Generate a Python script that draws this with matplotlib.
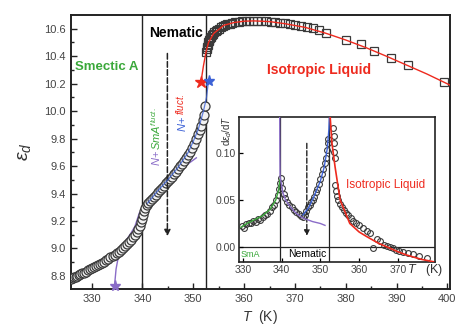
import numpy as np
import matplotlib
matplotlib.use("Agg")
import matplotlib.pyplot as plt

plt.rcParams['font.family'] = ['Liberation Sans', 'DejaVu Sans']
plt.rcParams['mathtext.fontset'] = 'custom'
plt.rcParams['mathtext.it'] = 'Liberation Sans:italic'
plt.rcParams['mathtext.rm'] = 'Liberation Sans'

# main panel: dielectric constant vs temperature
# smectic A + nematic (circles)
T_lc = [326.0, 326.3, 326.6, 326.9, 327.2, 327.5, 327.8, 328.1, 328.5, 328.9,
        329.3, 329.7, 330.1, 330.5, 330.9, 331.3, 331.7, 332.1, 332.5, 332.9,
        333.3, 333.7, 334.1, 334.5, 334.9, 335.3, 335.7, 336.1, 336.5, 336.9,
        337.3, 337.7, 338.1, 338.5, 338.9, 339.2, 339.5, 339.8, 340.0, 340.15,
        340.3, 340.5, 340.8, 341.1, 341.4, 341.8, 342.2, 342.6, 343.0, 343.4,
        343.8, 344.2, 344.6, 345.0, 345.4, 345.8, 346.2, 346.6, 347.0, 347.4,
        347.8, 348.2, 348.6, 349.0, 349.4, 349.8, 350.2, 350.6, 351.0, 351.3,
        351.6, 351.9, 352.1, 352.3]
eps_lc = [8.780, 8.785, 8.790, 8.795, 8.800, 8.806, 8.812, 8.818, 8.825, 8.832,
          8.840, 8.848, 8.856, 8.864, 8.872, 8.880, 8.888, 8.896, 8.905, 8.914,
          8.924, 8.935, 8.946, 8.956, 8.966, 8.977, 8.990, 9.003, 9.018, 9.033,
          9.048, 9.064, 9.082, 9.100, 9.122, 9.142, 9.165, 9.190, 9.215, 9.245,
          9.275, 9.298, 9.318, 9.333, 9.347, 9.363, 9.378, 9.393, 9.410, 9.426,
          9.442, 9.458, 9.474, 9.490, 9.507, 9.524, 9.542, 9.560, 9.579, 9.598,
          9.617, 9.637, 9.658, 9.680, 9.705, 9.732, 9.762, 9.795, 9.832, 9.862,
          9.895, 9.935, 9.975, 10.040]
# isotropic liquid (squares)
T_iso = [352.5, 352.6, 352.7, 352.8, 352.9, 353.0, 353.15, 353.3, 353.5, 353.7,
         353.9, 354.1, 354.4, 354.7, 355.0, 355.4, 355.8, 356.2, 356.7, 357.2,
         357.7, 358.3, 358.9, 359.6, 360.3, 361.0, 361.8, 362.6, 363.4, 364.3,
         365.2, 366.1, 367.0, 368.0, 369.0, 370.1, 371.2, 372.3, 373.5, 374.7,
         376.1, 380.1, 383.0, 385.5, 388.9, 392.3, 399.4]
eps_iso = [10.43, 10.45, 10.47, 10.485, 10.50, 10.51, 10.52, 10.53, 10.543, 10.555,
           10.565, 10.573, 10.583, 10.592, 10.600, 10.609, 10.617, 10.624, 10.631, 10.637,
           10.642, 10.646, 10.650, 10.653, 10.655, 10.657, 10.658, 10.658, 10.657, 10.655,
           10.652, 10.648, 10.645, 10.64, 10.635, 10.628, 10.62, 10.613, 10.603, 10.59,
           10.57, 10.515, 10.49, 10.435, 10.39, 10.335, 10.21]

# fit lines (main)
T_red = [351.5, 352.0, 352.5, 353.0, 354.0, 356.0, 358.0, 360.0, 362.0, 365.0,
         368.0, 372.0, 376.0, 380.0, 384.0, 388.0, 392.0, 396.0, 400.5]
eps_red = [10.21, 10.33, 10.43, 10.50, 10.565, 10.625, 10.645, 10.655, 10.657, 10.652,
           10.637, 10.61, 10.568, 10.518, 10.462, 10.40, 10.335, 10.27, 10.19]
T_blue = [341.0, 343.0, 345.0, 347.0, 349.0, 350.0, 351.0, 352.0, 352.6, 353.0]
eps_blue = [9.33, 9.42, 9.50, 9.59, 9.70, 9.78, 9.87, 10.00, 10.10, 10.22]
T_purp = [334.5, 334.8, 335.2, 336.0, 336.8, 337.7, 338.5, 339.4, 340.0, 340.5,
          342.0, 344.0, 346.0, 348.0, 350.6]
eps_purp = [8.73, 8.85, 8.93, 9.00, 9.06, 9.11, 9.16, 9.26, 9.29, 9.31,
            9.38, 9.46, 9.53, 9.59, 9.66]

# inset: derivative d eps / dT
Ti_sma = [329.7, 330.3, 330.9, 331.5, 332.1, 332.7, 333.3, 333.9, 334.5, 335.1,
          335.7, 336.3, 336.9, 337.5, 338.1, 338.6, 339.0, 339.3, 339.6, 339.8]
di_sma = [0.022, 0.020, 0.024, 0.026, 0.025, 0.028, 0.027, 0.030, 0.029, 0.032,
          0.034, 0.035, 0.038, 0.042, 0.045, 0.050, 0.055, 0.062, 0.068, 0.073]
Ti_nem = [340.2, 340.6, 341.0, 341.5, 342.0, 342.6, 343.2, 343.8, 344.4, 345.0,
          345.5, 346.0, 346.4, 346.8, 347.2, 347.6, 348.0, 348.4, 348.8, 349.2,
          349.6, 350.0, 350.4, 350.8, 351.2, 351.5, 351.8, 352.0, 352.1]
di_nem = [0.063, 0.056, 0.052, 0.048, 0.045, 0.042, 0.039, 0.037, 0.035, 0.033,
          0.032, 0.034, 0.038, 0.043, 0.045, 0.048, 0.050, 0.053, 0.058, 0.062,
          0.067, 0.072, 0.077, 0.083, 0.089, 0.095, 0.103, 0.110, 0.115]
Ti_iso = [353.3, 353.4, 353.5, 353.6, 353.7, 353.8, 354.0, 354.2, 354.6, 355.0,
          355.5, 356.0, 356.6, 357.2, 357.8, 358.5, 359.2, 360.0, 361.0, 362.0,
          362.8, 363.7, 364.5, 365.3, 366.3, 367.2, 368.0, 368.8, 369.6, 370.4,
          371.4, 372.6, 374.0, 375.5, 377.5]
di_iso = [0.126, 0.118, 0.110, 0.101, 0.094, 0.066, 0.060, 0.054, 0.050, 0.046,
          0.042, 0.039, 0.036, 0.034, 0.031, 0.028, 0.025, 0.023, 0.020, 0.017,
          0.015, -0.001, 0.008, 0.006, 0.002, 0.001, 0.000, -0.001, -0.003, -0.004,
          -0.005, -0.006, -0.007, -0.009, -0.012]

Ti_green = [329.5, 331.0, 333.0, 335.0, 337.0, 338.5, 339.2, 339.6]
di_green = [0.021, 0.025, 0.029, 0.033, 0.040, 0.050, 0.060, 0.072]
Ti_purp = [339.5, 339.55, 339.6, 340.3, 341.0, 342.0, 343.0, 344.0, 345.0, 346.0,
           348.0, 350.0, 351.2]
di_purp = [0.140, 0.100, 0.075, 0.058, 0.050, 0.044, 0.039, 0.035, 0.032, 0.030,
           0.027, 0.025, 0.023]
Ti_blue = [345.5, 347.0, 348.5, 350.0, 351.0, 351.8, 352.2, 352.35]
di_blue = [0.034, 0.042, 0.055, 0.070, 0.085, 0.105, 0.125, 0.140]
Ti_red = [352.5, 353.0, 353.8, 355.1, 357.6, 360.0, 362.0, 365.0, 367.1, 370.0,
          372.3, 376.0, 379.2]
di_red = [0.140, 0.110, 0.085, 0.050, 0.025, 0.016, 0.011, 0.004, 0.0003, -0.005,
          -0.0085, -0.013, -0.0156]

T_NA = 340.0
T_NI = 352.5

GREEN = '#3aa83a'
PURPLE = '#8a6cc8'
BLUE = '#3d62d6'
RED = '#ee2a1e'
EDGE = '#3a3a3a'
TICKC = '#444444'

fig = plt.figure(figsize=(4.6, 3.26), dpi=100)
ax = fig.add_axes([0.154, 0.1135, 0.824, 0.8405])

ax.plot(T_purp, eps_purp, '-', color=PURPLE, lw=1.0, zorder=2)
ax.plot(T_lc, eps_lc, 'o', ms=6.5, mfc='#f2f2f2', mec=EDGE, mew=0.9, zorder=3)
ax.plot(T_iso, eps_iso, 's', ms=6, mfc='none', mec=EDGE, mew=0.9, zorder=3)
ax.plot(T_red, eps_red, '-', color=RED, lw=1.0, zorder=4)
ax.plot(T_blue, eps_blue, '-', color=BLUE, lw=0.9, alpha=0.8, zorder=4)
ax.plot([351.5], [10.21], '*', color=RED, ms=9, zorder=5)
ax.plot([353.0], [10.22], '*', color=BLUE, ms=8, zorder=5)
ax.plot([334.5], [8.73], '*', color=PURPLE, ms=8, zorder=5, clip_on=False)

ax.axvline(T_NA, color='#222222', lw=1.0, zorder=2)
ax.axvline(T_NI, color='#222222', lw=1.0, zorder=2)
ax.annotate('', xy=(344.9, 9.07), xytext=(344.9, 10.44),
            arrowprops=dict(arrowstyle='-|>', ls='--', lw=1.1, color='#222222',
                            mutation_scale=9))

ax.text(332.9, 10.32, 'Smectic A', color=GREEN, fontsize=9.5, fontweight='bold',
        ha='center', va='center')
ax.text(346.6, 10.57, 'Nematic', color='black', fontsize=10, fontweight='bold',
        ha='center', va='center')
ax.text(374.8, 10.30, 'Isotropic Liquid', color=RED, fontsize=10, fontweight='bold',
        ha='center', va='center')

# rotated fluctuation labels
ax.text(342.6, 9.60, '$N$+', color=PURPLE, fontsize=8, rotation=90,
        ha='center', va='bottom')
ax.text(342.6, 9.72, '$SmA^{fluct.}$', color=GREEN, fontsize=8, rotation=90,
        ha='center', va='bottom')
ax.text(347.7, 9.85, '$N$+', color=BLUE, fontsize=8, rotation=90,
        ha='center', va='bottom')
ax.text(347.3, 9.97, '$fluct.$', color=RED, fontsize=7, rotation=90,
        ha='center', va='bottom')

ax.set_xlim(325.9, 400.5)
ax.set_ylim(8.705, 10.70)
ax.set_xticks([330, 340, 350, 360, 370, 380, 390, 400])
ax.set_xticks(np.arange(335, 400, 10), minor=True)
ax.set_yticks([8.8, 9.0, 9.2, 9.4, 9.6, 9.8, 10.0, 10.2, 10.4, 10.6])
ax.set_yticks(np.arange(8.9, 10.7, 0.2), minor=True)
ax.set_yticklabels(['8.8', '9.0', '9.2', '9.4', '9.6', '9.8', '10.0', '10.2', '10.4', '10.6'])
ax.tick_params(which='both', direction='in', labelsize=8, labelcolor=TICKC,
               width=1.0, color='#222222')
ax.tick_params(which='major', length=4)
ax.tick_params(which='minor', length=2)
for s in ax.spines.values():
    s.set_linewidth(1.4)
    s.set_color('#222222')
ax.set_xlabel('$T$  (K)', fontsize=10, color='#333333', labelpad=3)
ax.set_ylabel(r'$\varepsilon_d$', fontsize=14, color='#333333', labelpad=8)

# inset
ai = fig.add_axes([0.5196, 0.196, 0.4261, 0.445])
ai.set_facecolor('white')
ai.axvline(339.6, color='#222222', lw=0.9, zorder=1)
ai.axvline(352.3, color='#222222', lw=0.9, zorder=1)
ai.axhline(0.0, color='#222222', lw=0.9, zorder=1)
mk = dict(ls='none', marker='o', ms=4.2, mfc='none', mec=EDGE, mew=0.8, zorder=3)
ai.plot(Ti_sma, di_sma, **mk)
ai.plot(Ti_nem, di_nem, **mk)
ai.plot(Ti_iso, di_iso, **mk)
ai.plot(Ti_green, di_green, '-', color=GREEN, lw=1.0, zorder=4)
ai.plot(Ti_purp, di_purp, '-', color=PURPLE, lw=1.0, zorder=4)
ai.plot(Ti_blue, di_blue, '-', color=BLUE, lw=1.0, zorder=4)
ai.plot(Ti_red, di_red, '-', color=RED, lw=1.2, zorder=4)
ai.annotate('', xy=(346.5, 0.009), xytext=(346.5, 0.113),
            arrowprops=dict(arrowstyle='-|>', ls='--', lw=1.0, color='#222222',
                            mutation_scale=8))
ai.text(332.0, -0.0075, 'SmA', color=GREEN, fontsize=6.5, ha='center', va='center')
ai.text(346.7, -0.0075, 'Nematic', color='black', fontsize=7.5, ha='center', va='center')
ai.text(366.8, 0.066, 'Isotropic Liquid', color=RED, fontsize=8.5, ha='center', va='center')
ai.set_xlim(329.0, 379.6)
ai.set_ylim(-0.016, 0.138)
ai.set_xticks([330, 340, 350, 360, 370])
ai.set_yticks([0.00, 0.05, 0.10])
ai.set_yticklabels(['0.00', '0.05', '0.10'])
ai.tick_params(direction='in', labelsize=7.5, labelcolor=TICKC, length=3,
               width=0.9, pad=2)
for s in ai.spines.values():
    s.set_linewidth(1.2)
    s.set_color('#222222')
ai.text(-0.062, 0.905, r'd$\varepsilon_d$/d$T$', transform=ai.transAxes, rotation=90,
        fontsize=7, color='#333333', ha='center', va='center')
ai.text(0.95, -0.055, '$T$   (K)', transform=ai.transAxes, fontsize=9,
        color='#333333', ha='center', va='center')

fig.savefig('out.png', dpi=100)
